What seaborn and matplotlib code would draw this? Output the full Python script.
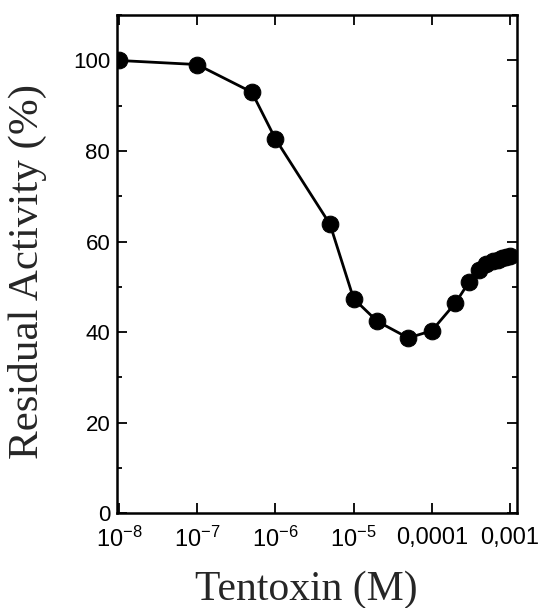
import numpy as np
import matplotlib
matplotlib.use('Agg')
import matplotlib.pyplot as plt
import matplotlib.ticker as mticker
import seaborn as sns

# Data
conc = [1e-8, 1e-7, 5e-7, 1e-6, 5e-6, 1e-5, 2e-5, 5e-5, 1e-4, 2e-4, 3e-4, 4e-4,
        5e-4, 6e-4, 7e-4, 8e-4, 9e-4, 1e-3]
activity = [100.0, 99.1, 93.0, 82.7, 63.8, 47.4, 42.4, 38.7, 40.3, 46.4, 51.1, 53.7,
            55.0, 55.6, 56.0, 56.3, 56.6, 56.8]
xtick_vals = [1e-8, 1e-7, 1e-6, 1e-5, 1e-4, 1e-3]
xtick_labels = [r'$\mathregular{10^{-8}}$', r'$\mathregular{10^{-7}}$',
                r'$\mathregular{10^{-6}}$', r'$\mathregular{10^{-5}}$',
                '0,0001', '0,001']
ytick_vals = [0, 20, 40, 60, 80, 100]

sns.set_style('ticks')
plt.rcParams['font.family'] = ['Liberation Sans', 'DejaVu Sans']
plt.rcParams['mathtext.fontset'] = 'custom'
plt.rcParams['mathtext.rm'] = 'Liberation Sans'

fig = plt.figure(figsize=(5.4, 6.08), dpi=100)
ax = fig.add_axes([0.217, 0.156, 0.74, 0.819])

sns.lineplot(x=conc, y=activity, ax=ax, color='black', linewidth=2,
             marker='o', markersize=12, markeredgecolor='black')

ax.set_xscale('log')
ax.set_xlim(0.95e-8, 1.22e-3)
ax.set_ylim(0, 110)

ax.set_xticks(xtick_vals)
ax.set_xticklabels(xtick_labels)
ax.xaxis.set_minor_locator(mticker.LogLocator(base=10, subs=np.arange(2, 10)))
ax.xaxis.set_minor_formatter(mticker.NullFormatter())
ax.set_yticks(ytick_vals)
ax.yaxis.set_minor_locator(mticker.MultipleLocator(10))

ax.tick_params(which='both', direction='in', top=True, right=True,
               width=1.3, colors='black')
ax.tick_params(which='major', length=7.5, pad=5)
ax.tick_params(which='minor', length=3.8)
ax.tick_params(axis='x', labelsize=17, pad=10)
ax.tick_params(axis='y', labelsize=16)

for s in ax.spines.values():
    s.set_linewidth(1.8)
    s.set_color('black')

# axis titles in a Times-like serif
ax.set_xlabel('Tentoxin (M)', family=['Liberation Serif'], fontsize=30)
ax.xaxis.set_label_coords(0.4725, -0.115)
ax.set_ylabel('Residual Activity (%)', family=['Liberation Serif'], fontsize=31)
ax.yaxis.set_label_coords(-0.175, 0.486)

fig.savefig('out.png', dpi=100, facecolor='white')
